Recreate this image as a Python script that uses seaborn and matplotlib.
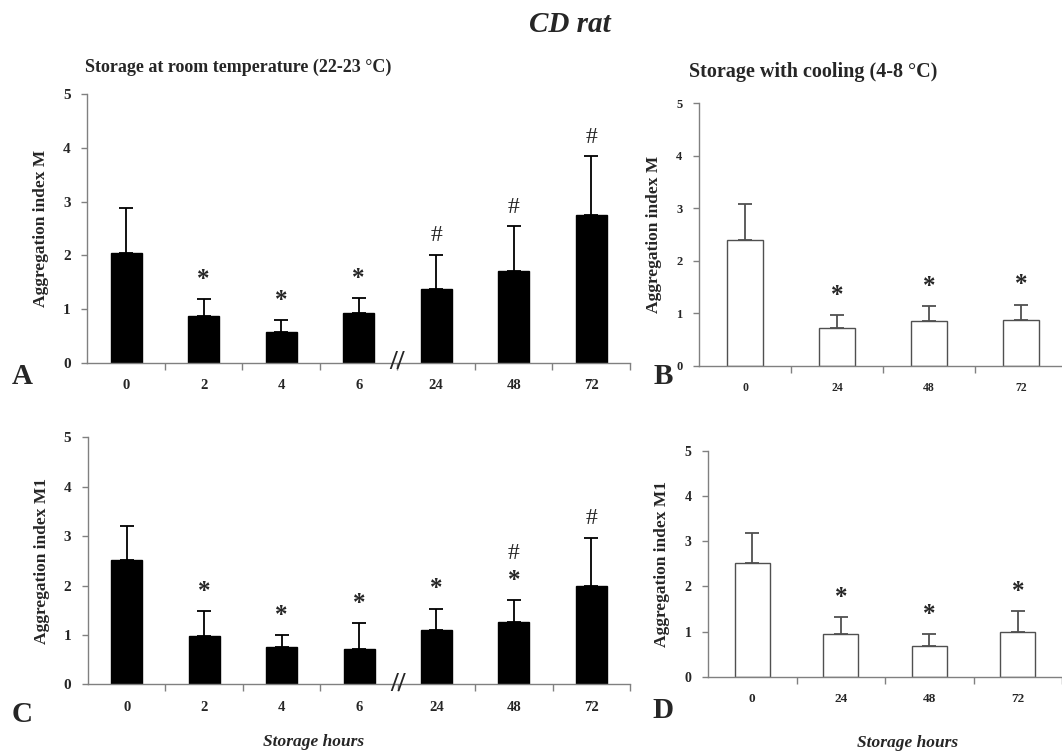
import numpy as np
import pandas as pd
import seaborn as sns
import matplotlib.pyplot as plt

# data (mean and upper SD)
hours_room = ["0", "2", "4", "6", "24", "48", "72"]
hours_cool = ["0", "24", "48", "72"]

m_room = [2.04, 0.87, 0.575, 0.93, 1.38, 1.70, 2.75]
m_room_sd = [0.84, 0.31, 0.215, 0.27, 0.63, 0.84, 1.09]
m_room_sig = ["", "*", "*", "*", "#", "#", "#"]

m_cool = [2.40, 0.71, 0.845, 0.864]
m_cool_sd = [0.69, 0.25, 0.285, 0.296]
m_cool_sig = ["", "*", "*", "*"]

m1_room = [2.52, 0.985, 0.756, 0.72, 1.11, 1.26, 2.00]
m1_room_sd = [0.69, 0.495, 0.244, 0.52, 0.42, 0.45, 0.97]
m1_room_sig = ["", "*", "*", "*", "*", "*#", "#"]

m1_cool = [2.52, 0.94, 0.67, 0.98]
m1_cool_sd = [0.67, 0.37, 0.27, 0.47]
m1_cool_sig = ["", "*", "*", "*"]

sns.set_style("ticks")
plt.rcParams['font.family'] = ['Liberation Serif', 'DejaVu Serif']

fig = plt.figure(figsize=(10.62, 7.56), dpi=100)


def panel(rect, hours, mean, sd, sig, fill, edge, ylabel, fs, brk=False):
    ax = fig.add_axes(rect)
    df = pd.DataFrame({"hours": hours, "mean": mean})
    sns.barplot(data=df, x="hours", y="mean", ax=ax, color=fill, saturation=1,
                edgecolor=edge, linewidth=1, width=0.4, errorbar=None)
    x = np.arange(len(hours))
    ax.errorbar(x, mean, yerr=[np.zeros(len(sd)), sd], fmt="none", ecolor=edge,
                elinewidth=1.3, capsize=5, capthick=1.3)
    for xi, m, s, lab in zip(x, mean, sd, sig):
        top = m + s
        if "*" in lab:
            ax.annotate("*", (xi, top), xytext=(0, 6), textcoords="offset points",
                        ha="center", va="bottom", fontsize=18, fontweight="bold")
        if "#" in lab:
            off = 26 if "*" in lab else 6
            ax.annotate("#", (xi, top), xytext=(0, off), textcoords="offset points",
                        ha="center", va="bottom", fontsize=17)
    ax.set_xlim(-0.5, len(hours) - 0.5)
    ax.set_ylim(0, 5)
    ax.set_yticks(range(6))
    ax.set_xticks(x, hours)
    ax.set_xticks(np.arange(len(hours)) + 0.5, minor=True)
    ax.tick_params(axis="x", which="major", length=0, pad=12, labelsize=fs)
    ax.tick_params(axis="x", which="minor", length=5, color="#808080", width=1)
    ax.tick_params(axis="y", length=4, color="#808080", width=1, labelsize=fs + 0.5, pad=8)
    for t in ax.get_xticklabels() + ax.get_yticklabels():
        t.set_fontweight("bold")
    sns.despine(ax=ax)
    for sp in ["left", "bottom"]:
        ax.spines[sp].set_color("#808080")
        ax.spines[sp].set_linewidth(1)
    ax.set_xlabel("")
    ax.set_ylabel(ylabel, fontsize=12.5, fontweight="bold", labelpad=10)
    if brk:
        ax.text(3.5, 0, "//", ha="center", va="center", fontsize=20,
                fontweight="bold", clip_on=False)
    return ax


panel([0.0822, 0.5202, 0.5110, 0.3554], hours_room, m_room, m_room_sd, m_room_sig,
      "black", "black", "Aggregation index M", 10.5, brk=True)
panel([0.6582, 0.5163, 0.3465, 0.3471], hours_cool, m_cool, m_cool_sd, m_cool_sig,
      "white", "#505050", "Aggregation index M", 8.5)
panel([0.0829, 0.0948, 0.5104, 0.3267], hours_room, m1_room, m1_room_sd, m1_room_sig,
      "black", "black", "Aggregation index M1", 10.5, brk=True)
panel([0.6667, 0.1049, 0.3333, 0.2989], hours_cool, m1_cool, m1_cool_sd, m1_cool_sig,
      "white", "#505050", "Aggregation index M1", 9.5)

fig.text(570 / 1062, 1 - 25 / 756, "CD rat", ha="center", va="center",
         fontsize=21, fontweight="bold", fontstyle="italic")
fig.text(238 / 1062, 1 - 67 / 756, "Storage at room temperature (22-23 °C)",
         ha="center", va="center", fontsize=13, fontweight="bold")
fig.text(813 / 1062, 1 - 72 / 756, "Storage with cooling (4-8 °C)",
         ha="center", va="center", fontsize=14.5, fontweight="bold")
for lx, ly, lab in [(22, 376, "A"), (663, 377, "B"), (22, 714, "C"), (663, 711, "D")]:
    fig.text(lx / 1062, 1 - ly / 756, lab, ha="center", va="center",
             fontsize=21, fontweight="bold")
fig.text(314 / 1062, 1 - 742 / 756, "Storage hours", ha="center", va="center",
         fontsize=12.5, fontweight="bold", fontstyle="italic")
fig.text(908 / 1062, 1 - 743 / 756, "Storage hours", ha="center", va="center",
         fontsize=12.5, fontweight="bold", fontstyle="italic")

fig.savefig("out.png", dpi=100)
